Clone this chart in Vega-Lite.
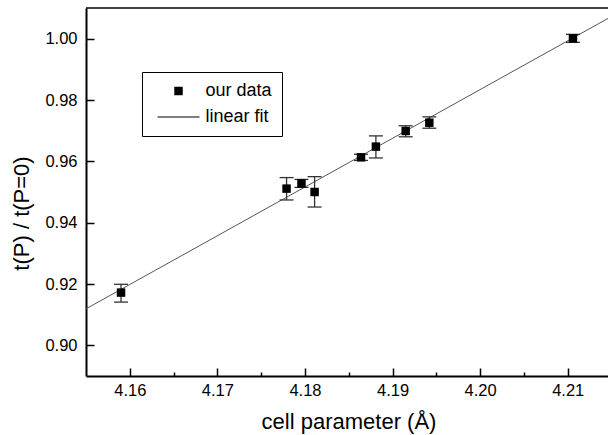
{
  "$schema": "https://vega.github.io/schema/vega-lite/v6.json",
  "width": 522,
  "height": 368,
  "autosize": {"type": "none"},
  "padding": {"left": 86, "top": 8, "right": 0, "bottom": 59},
  "background": "white",
  "config": {
    "view": {"stroke": null},
    "font": "Liberation Sans",
    "axis": {
      "grid": false,
      "domainColor": "black",
      "domainWidth": 2,
      "tickColor": "black",
      "tickWidth": 1.5,
      "labelFont": "Liberation Sans",
      "labelFontSize": 16.5,
      "labelColor": "black",
      "labelFlush": false,
      "labelOverlap": false,
      "titleFont": "Liberation Sans",
      "titleFontSize": 22,
      "titleFontWeight": "normal",
      "titleColor": "black"
    }
  },
  "datasets": {
    "pts": [
      {"x": 4.1590, "y": 0.9172, "lo": 0.9141, "hi": 0.9199, "series": "our data"},
      {"x": 4.1779, "y": 0.9511, "lo": 0.9474, "hi": 0.9547, "series": "our data"},
      {"x": 4.1796, "y": 0.9528, "lo": 0.9515, "hi": 0.9541, "series": "our data"},
      {"x": 4.1811, "y": 0.9500, "lo": 0.9451, "hi": 0.9550, "series": "our data"},
      {"x": 4.1864, "y": 0.9613, "lo": 0.9603, "hi": 0.9623, "series": "our data"},
      {"x": 4.1881, "y": 0.9648, "lo": 0.9611, "hi": 0.9683, "series": "our data"},
      {"x": 4.1915, "y": 0.9699, "lo": 0.9680, "hi": 0.9716, "series": "our data"},
      {"x": 4.1942, "y": 0.9726, "lo": 0.9708, "hi": 0.9745, "series": "our data"},
      {"x": 4.2106, "y": 1.0001, "lo": 0.9988, "hi": 1.0014, "series": "our data"}
    ],
    "fit": [
      {"x": 4.155, "y": 0.9119},
      {"x": 4.2146, "y": 1.0066}
    ]
  },
  "layer": [
    {
      "data": {"name": "fit"},
      "mark": {"type": "line", "color": "#555555", "strokeWidth": 1},
      "encoding": {
        "x": {
          "field": "x", "type": "quantitative",
          "scale": {"domain": [4.155, 4.2146], "nice": false, "zero": false},
          "axis": {
            "title": "cell parameter (Å)",
            "values": [4.16, 4.165, 4.17, 4.175, 4.18, 4.185, 4.19, 4.195, 4.2, 4.205, 4.21],
            "labelExpr": "abs(datum.value*100 - round(datum.value*100)) < 0.01 ? format(datum.value, '.2f') : ''",
            "tickSize": -8,
            "tickDash": {"condition": {"test": "abs(datum.value*100 - round(datum.value*100)) < 0.01", "value": [10, 10]}, "value": [4, 10]},
            "labelPadding": 14,
            "titleX": 262.5,
            "titleY": 52,
            "titleBaseline": "alphabetic",
            "titleAlign": "center"
          }
        },
        "y": {
          "field": "y", "type": "quantitative",
          "scale": {"domain": [0.89, 1.01], "nice": false, "zero": false},
          "axis": {
            "title": "t(P) / t(P=0)",
            "values": [0.9, 0.91, 0.92, 0.93, 0.94, 0.95, 0.96, 0.97, 0.98, 0.99, 1.0],
            "labelExpr": "abs(datum.value*50 - round(datum.value*50)) < 0.01 ? format(datum.value, '.2f') : ''",
            "tickSize": -8,
            "tickDash": {"condition": {"test": "abs(datum.value*50 - round(datum.value*50)) < 0.01", "value": [10, 10]}, "value": [5, 10]},
            "labelPadding": 17,
            "titleX": -58,
            "titleY": 205,
            "titleAngle": 270,
            "titleBaseline": "alphabetic",
            "titleAlign": "center"
          }
        }
      }
    },
    {
      "data": {"name": "pts"},
      "mark": {"type": "rule", "color": "#333333", "strokeWidth": 1.3},
      "encoding": {
        "x": {"field": "x", "type": "quantitative"},
        "y": {"field": "lo", "type": "quantitative"},
        "y2": {"field": "hi"}
      }
    },
    {
      "data": {"name": "pts"},
      "mark": {"type": "tick", "orient": "horizontal", "size": 14, "thickness": 1.3, "color": "#333333", "opacity": 1},
      "encoding": {
        "x": {"field": "x", "type": "quantitative"},
        "y": {"field": "lo", "type": "quantitative"}
      }
    },
    {
      "data": {"name": "pts"},
      "mark": {"type": "tick", "orient": "horizontal", "size": 14, "thickness": 1.3, "color": "#333333", "opacity": 1},
      "encoding": {
        "x": {"field": "x", "type": "quantitative"},
        "y": {"field": "hi", "type": "quantitative"}
      }
    },
    {
      "data": {"name": "pts"},
      "mark": {"type": "point", "filled": true, "color": "black", "size": 256, "opacity": 1},
      "encoding": {
        "x": {"field": "x", "type": "quantitative"},
        "y": {"field": "y", "type": "quantitative"},
        "shape": {
          "field": "series", "type": "nominal",
          "scale": {
            "domain": ["our data", "linear fit"],
            "range": ["M-0.53,-0.53L0.53,-0.53L0.53,0.53L-0.53,0.53Z", "M-2.625,-0.05L2.625,-0.05L2.625,0.05L-2.625,0.05Z"]
          },
          "legend": {
            "title": null,
            "orient": "none",
            "legendX": 56,
            "legendY": 64,
            "direction": "vertical",
            "columns": 1,
            "padding": 10,
            "strokeColor": "black",
            "symbolSize": 256,
            "symbolOffset": 17.5,
            "labelOffset": 18,
            "rowPadding": 8,
            "labelFont": "Liberation Sans",
            "labelFontSize": 18,
            "labelColor": "black",
            "symbolFillColor": "black",
            "symbolStrokeColor": "#444444",
            "symbolStrokeWidth": 0,
            "encode": {
              "symbols": {"update": {"fill": {"value": "#333333"}, "opacity": {"value": 1}}},
              "legend": {"update": {"strokeWidth": {"value": 1.3}}}
            }
          }
        }
      }
    },
    {
      "data": {"values": [{}]},
      "mark": {"type": "rule", "color": "black", "strokeWidth": 1.5},
      "encoding": {"y": {"datum": 1.01}}
    }
  ]
}
